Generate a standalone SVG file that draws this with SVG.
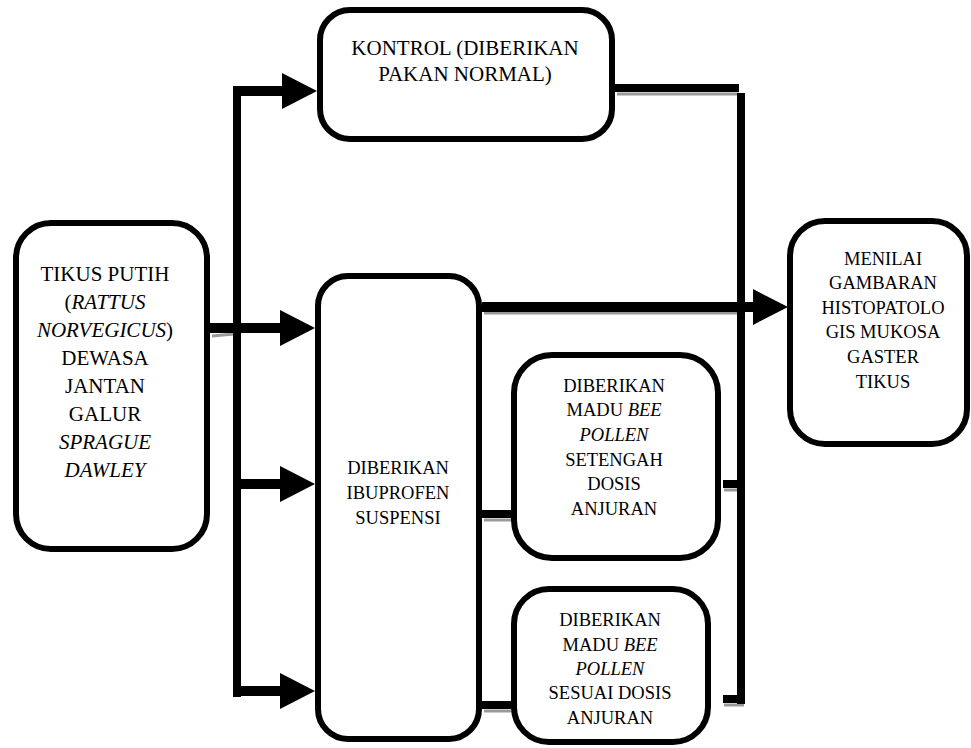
<svg xmlns="http://www.w3.org/2000/svg" width="971" height="748" viewBox="0 0 971 748" font-family="'Liberation Serif', 'DejaVu Serif', serif">
<style>
.box{fill:#fff;stroke:#000;stroke-width:6}
text{font-family:'Liberation Serif','DejaVu Serif',serif;fill:#000;text-anchor:middle}
.big{font-size:21px}
.sm{font-size:18.5px}
.i{font-style:italic}
.ln{fill:none;stroke:#000;stroke-width:10}
.v{fill:none;stroke:#000;stroke-width:8}
.sh{fill:none;stroke:#9a9a9a;stroke-width:3}
</style>
<defs>
<marker id="ah" viewBox="0 0 35 36" markerWidth="35" markerHeight="36" refX="2" refY="18" orient="auto" markerUnits="userSpaceOnUse">
<path d="M0,0 L35,18 L0,36 z" fill="#000"/>
</marker>
</defs>
<g id="connectors">
<path class="sh" d="M617,94 H739"/>
<path class="sh" d="M212,336 L234,334"/>
<path class="sh" d="M484,313 H740"/>
<path class="sh" d="M484,520 H512"/>
<path class="sh" d="M484,711 H512"/>
<path class="sh" d="M724,490 H738"/>
<path class="sh" d="M724,705 H744"/>
<path class="v" d="M237,87 V697"/>
<path class="ln" d="M233,91 H284" marker-end="url(#ah)"/>
<path class="ln" d="M210,328 H282" marker-end="url(#ah)"/>
<path class="ln" d="M237,484 H282" marker-end="url(#ah)"/>
<path class="ln" d="M233,691 H282" marker-end="url(#ah)"/>
<path class="ln" d="M482,307 H755" marker-end="url(#ah)"/>
<path class="v" d="M615,88 H739"/>
<path class="v" d="M741,93 V704"/>
<path class="v" d="M723,484 H742"/>
<path class="v" d="M723,699 H745"/>
<path class="v" d="M482,514 H513"/>
<path class="v" d="M482,705 H513"/>
</g>
<g id="kontrol">
<rect class="box" x="320" y="10" width="292" height="129" rx="30"/>
<text class="big" x="465" y="55">KONTROL (DIBERIKAN</text>
<text class="big" x="465" y="81">PAKAN NORMAL)</text>
</g>
<g id="tikus">
<rect class="box" x="16" y="223" width="191" height="326" rx="35"/>
<text class="big" x="105" y="281">TIKUS PUTIH</text>
<text class="big" x="105" y="309">(<tspan class="i">RATTUS</tspan></text>
<text class="big" x="105" y="337"><tspan class="i">NORVEGICUS</tspan>)</text>
<text class="big" x="105" y="365">DEWASA</text>
<text class="big" x="105" y="393">JANTAN</text>
<text class="big" x="105" y="421">GALUR</text>
<text class="big i" x="105" y="449">SPRAGUE</text>
<text class="big i" x="105" y="477">DAWLEY</text>
</g>
<g id="ibuprofen">
<rect class="box" x="318" y="276" width="161" height="463" rx="30"/>
<text class="sm" x="398" y="474">DIBERIKAN</text>
<text class="sm" x="398" y="499">IBUPROFEN</text>
<text class="sm" x="398" y="524">SUSPENSI</text>
</g>
<g id="setengah">
<rect class="box" x="514" y="355" width="204" height="203" rx="38"/>
<text class="sm" x="614" y="392">DIBERIKAN</text>
<text class="sm" x="614" y="416">MADU <tspan class="i">BEE</tspan></text>
<text class="sm i" x="614" y="441">POLLEN</text>
<text class="sm" x="614" y="466">SETENGAH</text>
<text class="sm" x="614" y="490">DOSIS</text>
<text class="sm" x="614" y="515">ANJURAN</text>
</g>
<g id="sesuai">
<rect class="box" x="514" y="589" width="194" height="153" rx="35"/>
<text class="sm" x="610" y="626">DIBERIKAN</text>
<text class="sm" x="610" y="651">MADU <tspan class="i">BEE</tspan></text>
<text class="sm i" x="610" y="675">POLLEN</text>
<text class="sm" x="610" y="699">SESUAI DOSIS</text>
<text class="sm" x="610" y="724">ANJURAN</text>
</g>
<g id="menilai">
<rect class="box" x="790" y="221" width="177" height="223" rx="35"/>
<text class="sm" x="883" y="265">MENILAI</text>
<text class="sm" x="883" y="289">GAMBARAN</text>
<text class="sm" x="883" y="314">HISTOPATOLO</text>
<text class="sm" x="883" y="338">GIS MUKOSA</text>
<text class="sm" x="883" y="363">GASTER</text>
<text class="sm" x="883" y="388">TIKUS</text>
</g>
</svg>
